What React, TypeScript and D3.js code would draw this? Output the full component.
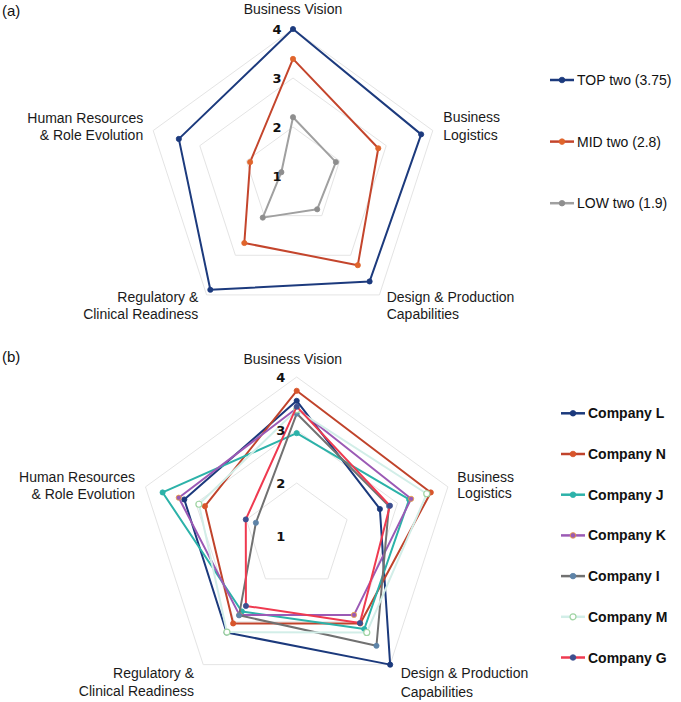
import React from "react";
import * as d3 from "d3";

// ---------- DATA ----------
const AXIS_LINES: string[][] = [
  ["Business Vision"],
  ["Business", "Logistics"],
  ["Design & Production", "Capabilities"],
  ["Regulatory &", "Clinical Readiness"],
  ["Human Resources", "& Role Evolution"],
];
const TICKS = [1, 2, 3, 4];
const GRID_LEVELS = [2, 3, 4];

// Chart (a)
const GROUP_NAMES = ["TOP two (3.75)", "MID two (2.8)", "LOW two (1.9)"];
const TOP_TWO = [4.0, 3.75, 3.66, 3.87, 3.45];
const MID_TWO = [3.39, 2.83, 3.25, 2.69, 1.92];
const LOW_TWO = [2.2, 1.92, 1.84, 2.05, 1.25];

// Chart (b)
const COMPANY_NAMES = ["Company L", "Company N", "Company J", "Company K", "Company I", "Company M", "Company G"];
const COMPANY_L = [3.55, 2.65, 4.0, 3.25, 3.23];
const COMPANY_N = [3.74, 3.66, 3.04, 3.04, 2.82];
const COMPANY_J = [2.94, 3.23, 3.17, 2.76, 3.66];
const COMPANY_K = [3.41, 3.27, 2.84, 2.84, 3.34];
const COMPANY_I = [3.31, 2.83, 3.56, 2.85, 1.81];
const COMPANY_M = [3.38, 3.58, 3.25, 3.24, 2.94];
const COMPANY_G = [3.44, 2.85, 3.03, 2.63, 2.01];

// ---------- STYLES ----------
type Style = { line: string; fill: string; stroke: string; open?: boolean };
const GROUP_STYLES: Style[] = [
  { line: "#1c3a7d", fill: "#1c3a7d", stroke: "#1c3a7d" },
  { line: "#c4452c", fill: "#e0652c", stroke: "#e0652c" },
  { line: "#a0a0a0", fill: "#8e8e8e", stroke: "#8e8e8e" },
];
const COMPANY_STYLES: Style[] = [
  { line: "#1b397c", fill: "#1b397c", stroke: "#1b397c" },
  { line: "#c0432b", fill: "#d8552b", stroke: "#d8552b" },
  { line: "#2cb2a9", fill: "#2cb2a9", stroke: "#2cb2a9" },
  { line: "#9b5ab5", fill: "#9b5ab5", stroke: "#f0a53a" },
  { line: "#717171", fill: "#5e84a8", stroke: "#5e84a8" },
  { line: "#d2eee8", fill: "#ffffff", stroke: "#9fd4a3", open: true },
  { line: "#ef3a50", fill: "#3d4f8f", stroke: "#3d4f8f" },
];

type LabelSpec = { anchor: "start" | "middle" | "end"; dx: number; dys: number[] };

const FONT = "'Liberation Sans', Arial, Helvetica, sans-serif";

function Radar(props: {
  cx: number;
  cy: number;
  radius: number;
  series: number[][];
  styles: Style[];
  labels: LabelSpec[];
  strokeWidth: number;
}) {
  const { cx, cy, radius, series, styles, labels, strokeWidth } = props;
  const n = AXIS_LINES.length;
  const r = d3.scaleLinear().domain([1, 4]).range([0, radius]);
  const angle = d3.scaleLinear().domain([0, n]).range([0, 2 * Math.PI]);
  const idx = d3.range(n);
  const pt = (i: number, v: number): [number, number] => [
    r(v) * Math.sin(angle(i)),
    -r(v) * Math.cos(angle(i)),
  ];
  const radial = d3
    .lineRadial<number>()
    .angle((_, i) => angle(i))
    .radius((d) => r(d))
    .curve(d3.curveLinearClosed);

  return (
    <g transform={`translate(${cx},${cy})`}>
      {GRID_LEVELS.map((lv) => (
        <path key={lv} d={radial(idx.map(() => lv)) || ""} fill="none" stroke="#e4e4e4" strokeWidth={1} />
      ))}
      {series.map((vals, si) => (
        <g key={si}>
          <path d={radial(vals) || ""} fill="none" stroke={styles[si].line} strokeWidth={strokeWidth} strokeLinejoin="round" />
          {vals.map((v, i) => {
            const [x, y] = pt(i, v);
            return (
              <circle
                key={i}
                cx={x}
                cy={y}
                r={styles[si].open ? 3 : 2.6}
                fill={styles[si].fill}
                stroke={styles[si].stroke}
                strokeWidth={styles[si].open ? 1.2 : 0.8}
              />
            );
          })}
        </g>
      ))}
      {TICKS.map((t) => (
        <text
          key={t}
          x={-16}
          y={-r(t)}
          textAnchor="middle"
          dominantBaseline="central"
          fontFamily="'DejaVu Sans', sans-serif"
          fontWeight="bold"
          fontSize={13}
          fill="#111"
        >
          {t}
        </text>
      ))}
      {idx.map((i) => {
        const [vx, vy] = pt(i, 4);
        const spec = labels[i];
        return (
          <text key={i} textAnchor={spec.anchor} fontFamily={FONT} fontSize={14} fill="#1a1a1a">
            {AXIS_LINES[i].map((line, li) => (
              <tspan key={li} x={vx + spec.dx} y={vy + spec.dys[li]} dominantBaseline="central">
                {line}
              </tspan>
            ))}
          </text>
        );
      })}
    </g>
  );
}

function Legend(props: {
  x: number;
  y0: number;
  step: number;
  names: string[];
  styles: Style[];
  bold: boolean;
}) {
  const { x, y0, step, names, styles, bold } = props;
  const yScale = d3.scaleLinear().domain([0, 1]).range([y0, y0 + step]);
  return (
    <g>
      {names.map((name, i) => {
        const y = yScale(i);
        const s = styles[i];
        return (
          <g key={name} transform={`translate(${x},${y})`}>
            <line x1={0} x2={24} y1={0} y2={0} stroke={s.line} strokeWidth={2.5} />
            <circle cx={12} cy={0} r={s.open ? 3 : 2.8} fill={s.fill} stroke={s.stroke} strokeWidth={s.open ? 1.2 : 0.8} />
            <text x={27} y={0} dominantBaseline="central" fontFamily={FONT} fontSize={14} fontWeight={bold ? "bold" : "normal"} fill="#111">
              {name}
            </text>
          </g>
        );
      })}
    </g>
  );
}

const LABELS_A: LabelSpec[] = [
  { anchor: "middle", dx: 0, dys: [-20.5] },
  { anchor: "start", dx: 10.5, dys: [-13.3, 4.4] },
  { anchor: "start", dx: 7.3, dys: [2.4, 19.4] },
  { anchor: "end", dx: -8.3, dys: [2.4, 19.4] },
  { anchor: "end", dx: -10, dys: [-12.9, 4.4] },
];
const LABELS_B: LabelSpec[] = [
  { anchor: "middle", dx: -4, dys: [-17.7] },
  { anchor: "start", dx: 9.4, dys: [-10.2, 5.8] },
  { anchor: "start", dx: 10.5, dys: [8.7, 27.1] },
  { anchor: "end", dx: -9.2, dys: [8.4, 26.4] },
  { anchor: "end", dx: -10.5, dys: [-10.2, 7.4] },
];

export default function App() {
  return (
    <svg
      width={681}
      height={702}
      viewBox="0 0 681 702"
      style={{ position: "absolute", left: 0, top: 0, background: "#fff" }}
    >
      <rect x={0} y={0} width={681} height={702} fill="#fff" />
      <text x={2} y={10} dominantBaseline="central" fontFamily={FONT} fontSize={15} fill="#111">(a)</text>
      <text x={2} y={356} dominantBaseline="central" fontFamily={FONT} fontSize={15} fill="#111">(b)</text>
      <Radar
        cx={293}
        cy={176}
        radius={147}
        series={[TOP_TWO, MID_TWO, LOW_TWO]}
        styles={GROUP_STYLES}
        labels={LABELS_A}
        strokeWidth={2}
      />
      <Legend x={550} y0={80} step={61.6} names={GROUP_NAMES} styles={GROUP_STYLES} bold={false} />
      <Radar
        cx={296.7}
        cy={536}
        radius={159}
        series={[COMPANY_L, COMPANY_N, COMPANY_J, COMPANY_K, COMPANY_I, COMPANY_M, COMPANY_G]}
        styles={COMPANY_STYLES}
        labels={LABELS_B}
        strokeWidth={2}
      />
      <Legend x={561} y0={413.3} step={40.7} names={COMPANY_NAMES} styles={COMPANY_STYLES} bold={true} />
    </svg>
  );
}
